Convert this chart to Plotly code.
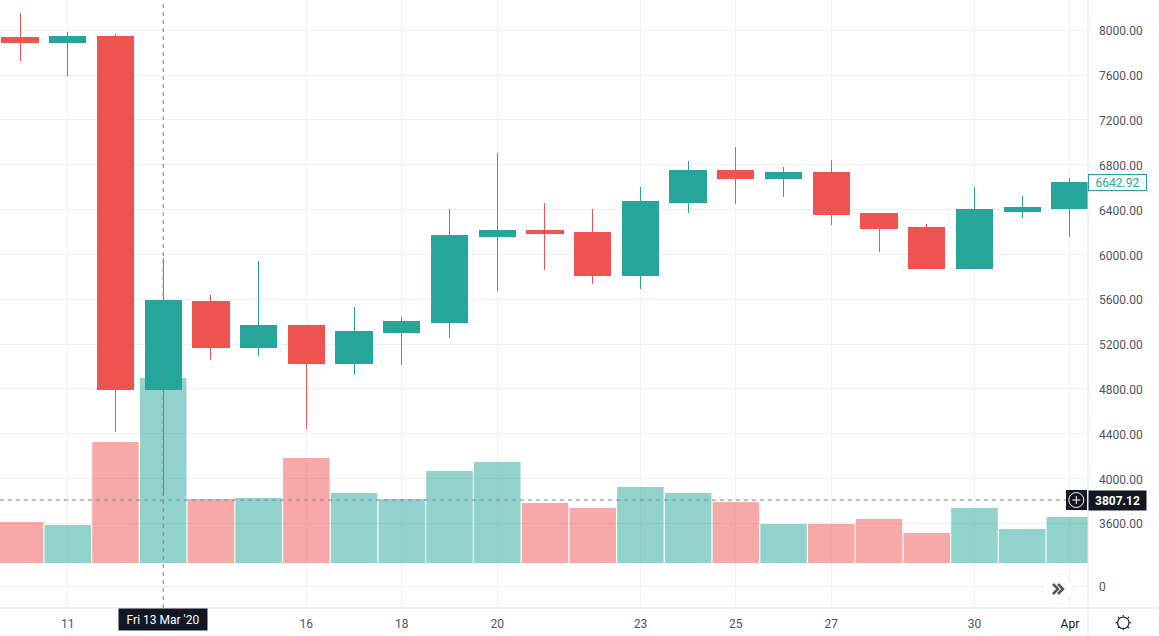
"""BTC daily candles with volume, laid out like a TradingView pane."""

import plotly.graph_objects as go

dates = [
    "2020-03-10", "2020-03-11", "2020-03-12", "2020-03-13", "2020-03-14", "2020-03-15",
    "2020-03-16", "2020-03-17", "2020-03-18", "2020-03-19", "2020-03-20", "2020-03-21",
    "2020-03-22", "2020-03-23", "2020-03-24", "2020-03-25", "2020-03-26", "2020-03-27",
    "2020-03-28", "2020-03-29", "2020-03-30", "2020-03-31", "2020-04-01",
]
opens = [7931, 7887, 7940, 4790, 5575, 5167, 5361, 5025, 5307, 5390, 6155, 6209,
         6191, 5810, 6461, 6744, 6673, 6735, 6361, 6236, 5870, 6387, 6405]
highs = [8154, 7982, 7967, 5968, 5638, 5941, 5370, 5531, 5441, 6405, 6905, 6459,
         6405, 6602, 6834, 6959, 6780, 6842, 6361, 6271, 6602, 6521, 6682]
lows = [7726, 7592, 4415, 3853, 5058, 5096, 4444, 4926, 5016, 5257, 5676, 5861,
        5736, 5691, 6370, 6450, 6512, 6262, 6021, 5870, 5870, 6325, 6155]
closes = [7887, 7940, 4790, 5584, 5167, 5361, 5025, 5316, 5397, 6164, 6209, 6182,
          5810, 6468, 6744, 6673, 6735, 6352, 6227, 5870, 6396, 6414, 6642.92]
volumes = [41, 38, 121, 185, 64, 65, 105, 70, 64, 92, 101, 60,
           55, 76, 70, 61, 39, 39, 44, 30, 55, 34, 46]

price_ticks = [3038, 3600, 4000, 4400, 4800, 5200, 5600, 6000, 6400, 6800, 7200, 7600, 8000]
price_labels = ["0", "3600.00", "4000.00", "4400.00", "4800.00", "5200.00", "5600.00",
                "6000.00", "6400.00", "6800.00", "7200.00", "7600.00", "8000.00"]
date_ticks = ["2020-03-11", "2020-03-16", "2020-03-18", "2020-03-20", "2020-03-23",
              "2020-03-25", "2020-03-27", "2020-03-30", "2020-04-01"]
date_labels = ["11", "16", "18", "20", "23", "25", "27", "30",
               '<span style="color:#131722">Apr</span>']

last_price = 6642.92
cross_price = 3807.12
cross_date = "2020-03-13"

UP = "#26a69a"
DOWN = "#ef5350"
GRID = "#eff1f3"
BORDER = "#e0e3eb"
DARK = "#131722"
TEXT = "#50535e"
FONT = "Roboto, sans-serif"

vol_colors = [
    "rgba(38,166,154,0.5)" if c >= o else "rgba(239,83,80,0.5)"
    for o, c in zip(opens, closes)
]

fig = go.Figure()
fig.add_trace(
    go.Bar(
        x=dates,
        y=volumes,
        width=0.975 * 86400000,
        marker={"color": vol_colors, "line": {"width": 0}},
        yaxis="y",
        hoverinfo="skip",
    )
)
fig.add_trace(
    go.Candlestick(
        x=dates,
        open=opens,
        high=highs,
        low=lows,
        close=closes,
        increasing={"line": {"color": UP, "width": 1}, "fillcolor": UP},
        decreasing={"line": {"color": DOWN, "width": 1}, "fillcolor": DOWN},
        whiskerwidth=0,
        yaxis="y2",
        hoverinfo="skip",
    )
)


def pixel_shape(kind, x0=0, y0=0, x1=0, y1=0, path=None, **style):
    """Shape measured in pixels from the bottom right corner of the plot."""
    shape = {
        "type": kind,
        "xref": "paper",
        "yref": "paper",
        "xsizemode": "pixel",
        "ysizemode": "pixel",
        "xanchor": 1,
        "yanchor": 0,
        "layer": "above",
    }
    if path:
        shape["path"] = path
    else:
        shape.update({"x0": x0, "x1": x1, "y0": y0, "y1": y1})
    shape.update(style)
    return shape


shapes = [
    # pane borders
    {"type": "line", "xref": "paper", "yref": "paper", "x0": 1, "x1": 1, "y0": -0.05, "y1": 1,
     "line": {"color": BORDER, "width": 1}, "layer": "above"},
    {"type": "line", "xref": "paper", "yref": "paper", "x0": 0, "x1": 1.066, "y0": 0, "y1": 0,
     "line": {"color": BORDER, "width": 1}, "layer": "above"},
    # crosshair
    {"type": "line", "xref": "x", "yref": "paper", "x0": cross_date, "x1": cross_date, "y0": 0, "y1": 1,
     "line": {"color": "#758696", "width": 1, "dash": "4px,4px"}, "layer": "above"},
    {"type": "line", "xref": "paper", "yref": "y2", "x0": 0, "x1": 0.98, "y0": cross_price, "y1": cross_price,
     "line": {"color": "#758696", "width": 1, "dash": "4px,4px"}, "layer": "above"},
    # plus button on the crosshair
    pixel_shape("path", path="M -22 98 L -1 98 L -1 118 L -22 118 Z", fillcolor=DARK, line={"width": 0}),
    pixel_shape("circle", x0=-19.2, x1=-4.2, y0=100.5, y1=115.5, line={"color": "#ffffff", "width": 1}),
    pixel_shape("path", path="M -15.7 108 L -7.7 108 M -11.7 104 L -11.7 112", line={"color": "#ffffff", "width": 1}),
    # scroll button
    pixel_shape("circle", x0=-47.5, x1=-13.5, y0=2, y1=36, fillcolor="rgba(0,0,0,0.01)", line={"width": 0}),
    pixel_shape("circle", x0=-46, x1=-15, y0=3.5, y1=34.5, fillcolor="rgba(0,0,0,0.02)", line={"width": 0}),
    pixel_shape("circle", x0=-45, x1=-16, y0=4.5, y1=33.5, fillcolor="#ffffff", line={"width": 0}),
    pixel_shape("path", path="M -35 24 L -30 19 L -35 14 M -30 24 L -25 19 L -30 14",
                line={"color": TEXT, "width": 2.5}),
    # settings icon
    pixel_shape("circle", x0=29.5, x1=41, y0=-20.5, y1=-9, line={"color": DARK, "width": 1.2}),
    pixel_shape("path", path="M 35.2 -8.5 L 35.2 -7 M 35.2 -20.5 L 35.2 -22 M 29 -14.7 L 27.5 -14.7 "
                             "M 41.5 -14.7 L 43 -14.7 M 31 -10 L 30 -9 M 40 -10 L 41 -9 "
                             "M 31 -19 L 30 -20 M 40 -19 L 41 -20",
                line={"color": DARK, "width": 1.2}),
]

annotations = [
    {"text": "Fri 13 Mar '20", "xref": "x", "yref": "paper", "x": cross_date, "y": 0, "yanchor": "top",
     "xanchor": "center", "showarrow": False, "width": 88, "height": 21, "borderpad": 0, "bgcolor": DARK,
     "font": {"family": FONT, "size": 12, "color": "#ffffff"}},
    {"text": f"{last_price:.2f}", "xref": "paper", "yref": "y2", "x": 1, "y": last_price, "xanchor": "left",
     "yanchor": "middle", "showarrow": False, "width": 57, "height": 15, "bgcolor": "#ffffff",
     "bordercolor": UP, "borderwidth": 1, "borderpad": 0,
     "font": {"family": FONT, "size": 12, "color": UP}},
    {"text": f"<b>{cross_price:.2f}</b>", "xref": "paper", "yref": "y2", "x": 1, "y": cross_price, "xanchor": "left",
     "yanchor": "middle", "showarrow": False, "width": 57, "height": 19, "borderpad": 0, "bgcolor": DARK,
     "font": {"family": FONT, "size": 12, "color": "#ffffff"}},
]

fig.update_layout(
    width=1159,
    height=636,
    margin={"l": 0, "r": 71, "t": 0, "b": 28},
    paper_bgcolor="#ffffff",
    plot_bgcolor="#ffffff",
    showlegend=False,
    boxmode="overlay",
    boxgap=0.24,
    boxgroupgap=0,
    font={"family": FONT, "size": 12, "color": TEXT},
    xaxis={
        "type": "date",
        "range": ["2020-03-09 13:56", "2020-04-01 09:06"],
        "rangeslider": {"visible": False},
        "tickmode": "array",
        "tickvals": date_ticks,
        "ticktext": date_labels,
        "ticks": "",
        "ticklabelstandoff": 7,
        "showgrid": True,
        "gridcolor": GRID,
        "gridwidth": 1,
        "zeroline": False,
        "showline": False,
    },
    yaxis={"range": [-45, 563], "visible": False, "showgrid": False, "zeroline": False, "fixedrange": True},
    yaxis2={
        "overlaying": "y",
        "side": "right",
        "anchor": "x",
        "range": [2844, 8270],
        "tickmode": "array",
        "tickvals": price_ticks,
        "ticktext": price_labels,
        "ticks": "",
        "ticklabelstandoff": 10,
        "ticklabelshift": 1,
        "showgrid": True,
        "gridcolor": GRID,
        "gridwidth": 1,
        "zeroline": False,
        "showline": False,
    },
    shapes=shapes,
    annotations=annotations,
)

# square candle corners and no page margin around the figure
square_corners = (
    "document.body.style.margin='0';document.body.style.overflow='hidden';"
    "var s=document.createElement('style');"
    "s.textContent='.boxlayer path{stroke-linejoin:miter !important;shape-rendering:crispEdges !important}';"
    "document.head.appendChild(s);"
)

fig.write_html(
    "out.html",
    config={"displayModeBar": False},
    post_script=square_corners,
)
